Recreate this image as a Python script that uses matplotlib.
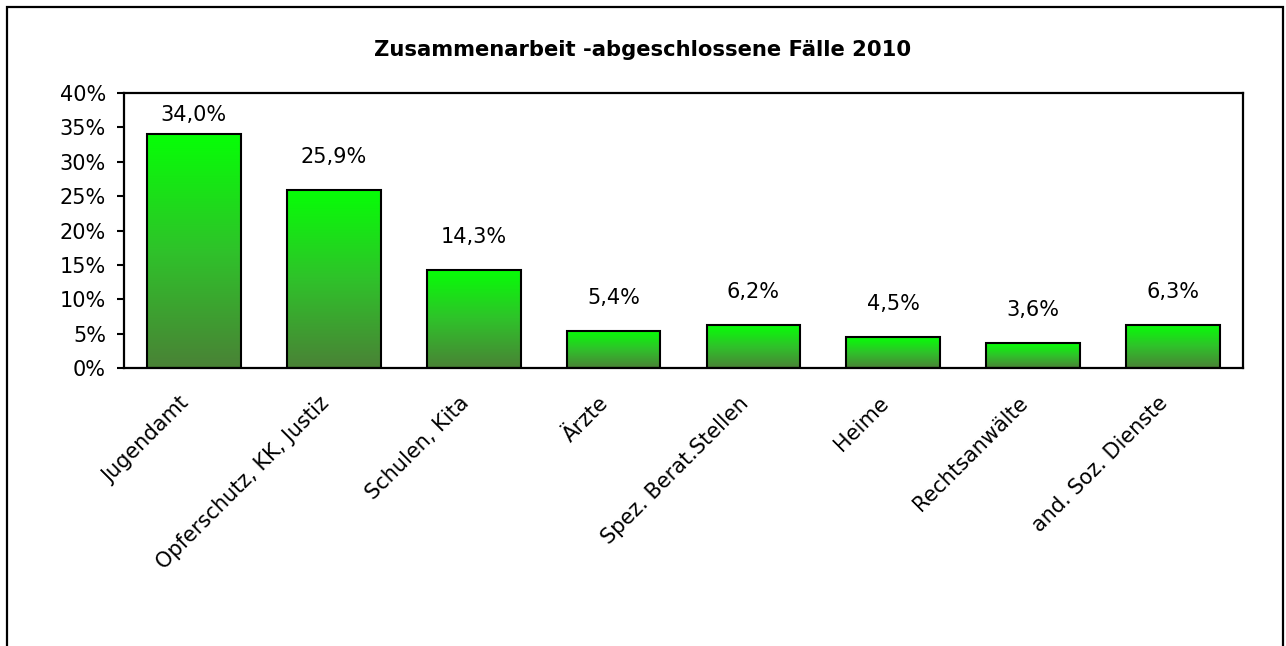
import numpy as np
import matplotlib
matplotlib.use("Agg")
import matplotlib.pyplot as plt
from matplotlib.patches import Rectangle
from matplotlib.colors import LinearSegmentedColormap
from matplotlib.transforms import ScaledTranslation

# Daten
categories = ["Jugendamt", "Opferschutz, KK, Justiz", "Schulen, Kita", "Ärzte",
              "Spez. Berat.Stellen", "Heime", "Rechtsanwälte", "and. Soz. Dienste"]
values = [34.0, 25.9, 14.3, 5.4, 6.2, 4.5, 3.6, 6.3]
yticks = [0, 5, 10, 15, 20, 25, 30, 35, 40]
title = "Zusammenarbeit -abgeschlossene Fälle 2010"

plt.rcParams['font.family'] = ['DejaVu Sans']

fig = plt.figure(figsize=(12.86, 6.46), dpi=100)
ax = fig.add_axes([124 / 1286, 278 / 646, 1119 / 1286, 275 / 646])

# Rahmen um die ganze Grafik (unten abgeschnitten)
frame = Rectangle((7 / 1286, -0.2), 1276 / 1286, 1.2 - 7 / 646,
                  transform=fig.transFigure, fill=False, edgecolor='black',
                  linewidth=1.6, clip_on=False)
fig.patches.append(frame)

x = np.arange(len(categories))
bars = ax.bar(x, values, width=0.67, color='none', edgecolor='black',
              linewidth=1.5, zorder=3)

# Farbverlauf in den Balken
cmap = LinearSegmentedColormap.from_list("gr", ["#4a8236", "#2fc22a", "#06ff06"])
grad = np.linspace(0, 1, 256).reshape(-1, 1)
for b in bars:
    bx, by = b.get_x(), b.get_y()
    im = ax.imshow(grad, cmap=cmap, origin='lower', aspect='auto',
                   extent=(bx, bx + b.get_width(), by, by + b.get_height()),
                   zorder=2)
    im.set_clip_path(b)

# Werte über den Balken
for xi, v in zip(x, values):
    ax.text(xi, min(v + 4.8, 36.8), f"{v:.1f}%".replace(".", ","),
            ha='center', va='center', fontsize=15)

ax.set_xlim(-0.5, len(categories) - 0.5)
ax.set_ylim(0, 40)
ax.set_yticks(yticks)
ax.set_yticklabels([f"{t}%" for t in yticks], fontsize=15)
ax.tick_params(axis='y', direction='out', length=5, width=1.5, pad=8)
ax.set_xticks(x)
ax.set_xticklabels(categories, rotation=45, ha='right', rotation_mode='anchor',
                   fontsize=15)
ax.tick_params(axis='x', length=0, pad=18)
shift = ScaledTranslation(-11 / 72, 0, fig.dpi_scale_trans)
for lbl in ax.get_xticklabels():
    lbl.set_transform(lbl.get_transform() + shift)
for s in ax.spines.values():
    s.set_linewidth(1.6)

fig.text(0.5, 1 - 50 / 646, title, ha='center', va='center',
         fontsize=15.2, fontweight='bold')

fig.savefig("out.png", dpi=100)
